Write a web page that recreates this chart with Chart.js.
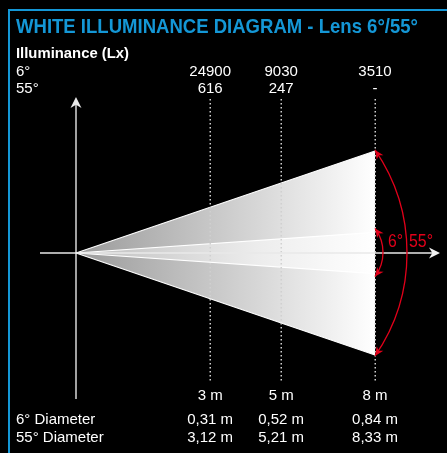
<!DOCTYPE html>
<html>
<head>
<meta charset="utf-8">
<script src="https://cdn.jsdelivr.net/npm/chart.js@4/dist/chart.umd.min.js"></script>
<style>
    html, body { margin: 0; padding: 0; background: #000; }
    canvas { display: block; }
</style>
</head>
<body>
<canvas id="chart-illuminance" width="447" height="453"></canvas>
<script>
// distances and readings under each column
const distances = ['3 m', '5 m', '8 m'];
const columnPos = [3.59, 5.49, 8];   // diagram is not to scale
const lux6 = ['24900', '9030', '3510'];
const lux55 = ['616', '247', '-'];
const diam6 = ['0,31 m', '0,52 m', '0,84 m'];
const diam55 = ['3,12 m', '5,21 m', '8,33 m'];

// beam half widths at the end of the drawing
const beamLength = 8;
const wideHalf = 4.17;
const narrowHalf = 0.84;

const blue = '#1497d6';
const red = '#e2001a';
const font = '"Liberation Sans", Arial, sans-serif';

function beamGradient(ctx, from, to) {
    const chart = ctx.chart;
    const x = chart.scales.x;
    if (!x || !chart.chartArea) {
        return from;
    }
    const g = chart.ctx.createLinearGradient(x.getPixelForValue(0), 0, x.getPixelForValue(beamLength), 0);
    g.addColorStop(0, from);
    g.addColorStop(0.6, to[0]);
    g.addColorStop(1, to[1]);
    return g;
}

function beam(half, order, colors) {
    return [half, -half].map(h => ({
        data: [{x: 0, y: 0}, {x: beamLength, y: h}],
        showLine: true,
        fill: 'origin',
        order: order,
        borderColor: '#ffffff',
        borderWidth: 1.2,
        pointRadius: 0,
        backgroundColor: ctx => beamGradient(ctx, colors[0], [colors[1], colors[2]]),
    }));
}

function arrowHead(c, tx, ty, dx, dy, len, w) {
    const px = -dy, py = dx;
    c.beginPath();
    c.moveTo(tx, ty);
    c.lineTo(tx - dx * len + px * w, ty - dy * len + py * w);
    c.lineTo(tx - dx * len * 0.7, ty - dy * len * 0.7);
    c.lineTo(tx - dx * len - px * w, ty - dy * len - py * w);
    c.closePath();
    c.fill();
}

function angleArc(c, x, yTop, yBot, bulge) {
    const cy = (yTop + yBot) / 2;
    const h = (yBot - yTop) / 2;
    const d = (h * h - bulge * bulge) / (2 * bulge);
    const cx = x - d;
    const r = d + bulge;
    const a = Math.atan2(-h, d);
    c.beginPath();
    c.arc(cx, cy, r, a, -a);
    c.stroke();
    // arrow heads at both ends, along the tangent
    arrowHead(c, x, yTop, Math.sin(a), -Math.cos(a), 9, 4);
    arrowHead(c, x, yBot, Math.sin(a), Math.cos(a), 9, 4);
}

const diagramPlugin = {
    id: 'diagram',
    beforeDraw(chart) {
        const c = chart.ctx;
        c.save();
        c.fillStyle = '#000';
        c.fillRect(0, 0, chart.width, chart.height);

        // frame
        c.strokeStyle = blue;
        c.lineWidth = 2;
        c.beginPath();
        c.moveTo(9, chart.height);
        c.lineTo(9, 10);
        c.lineTo(chart.width, 10);
        c.stroke();

        c.fillStyle = blue;
        c.font = 'bold 21px ' + font;
        c.textBaseline = 'alphabetic';
        c.textAlign = 'left';
        c.fillText('WHITE ILLUMINANCE DIAGRAM - Lens 6°/55°', 16, 33, 402);

        c.fillStyle = '#fff';
        c.font = 'bold 15px ' + font;
        c.fillText('Illuminance (Lx)', 16, 58, 113);

        c.font = '15px ' + font;
        c.fillText('6°', 16, 76);
        c.fillText('55°', 16, 93);
        c.fillText('6° Diameter', 16, 424);
        c.fillText('55° Diameter', 16, 442);

        const x = chart.scales.x;
        c.textAlign = 'center';
        columnPos.forEach((p, i) => {
            const px = x.getPixelForValue(p);
            c.fillText(lux6[i], px, 76);
            c.fillText(lux55[i], px, 93);
            c.fillText(distances[i], px, 400);
            c.fillText(diam6[i], px, 424);
            c.fillText(diam55[i], px, 442);
        });

        // vertical axis
        const ox = x.getPixelForValue(0);
        const oy = chart.scales.y.getPixelForValue(0);
        c.strokeStyle = '#d8d8d8';
        c.fillStyle = '#e8e8e8';
        c.lineWidth = 1.5;
        c.beginPath();
        c.moveTo(ox, 399);
        c.lineTo(ox, 104);
        c.stroke();
        arrowHead(c, ox, 97, 0, -1, 11, 5.5);
        c.restore();
    },
    afterDatasetsDraw(chart) {
        const c = chart.ctx;
        const x = chart.scales.x;
        const oy = chart.scales.y.getPixelForValue(0);
        c.save();

        // dotted guides at each distance
        c.strokeStyle = '#d0d0d0';
        c.lineWidth = 1.5;
        c.setLineDash([1.5, 2.5]);
        columnPos.forEach(p => {
            const px = Math.round(x.getPixelForValue(p)) + 0.25;
            c.beginPath();
            c.moveTo(px, 99);
            c.lineTo(px, 382);
            c.stroke();
        });
        c.setLineDash([]);

        // horizontal axis
        c.strokeStyle = '#e8e8e8';
        c.fillStyle = '#f2f2f2';
        c.lineWidth = 1.5;
        c.beginPath();
        c.moveTo(40, oy);
        c.lineTo(433, oy);
        c.stroke();
        arrowHead(c, 440, oy, 1, 0, 11, 5.5);

        // beam angle arcs
        const ex = x.getPixelForValue(beamLength);
        const y = chart.scales.y;
        c.strokeStyle = red;
        c.fillStyle = red;
        c.lineWidth = 1.3;
        angleArc(c, ex, y.getPixelForValue(wideHalf) - 1, y.getPixelForValue(-wideHalf) + 1, 32);
        angleArc(c, ex, y.getPixelForValue(narrowHalf) - 4, y.getPixelForValue(-narrowHalf) + 3, 8);

        c.font = '18px ' + font;
        c.textAlign = 'left';
        c.fillText('6°', 388, 247, 15);
        c.fillText('55°', 409, 247, 24);
        c.restore();
    },
};

new Chart(document.getElementById('chart-illuminance'), {
    type: 'scatter',
    data: {
        datasets: [
            ...beam(narrowHalf, 1, ['#bdbdbd', '#ececec', '#ffffff']),
            ...beam(wideHalf, 2, ['#9a9a9a', '#d6d6d6', '#ffffff']),
        ],
    },
    options: {
        responsive: false,
        animation: false,
        events: [],
        layout: { padding: 0 },
        plugins: {
            legend: { display: false },
            tooltip: { enabled: false },
        },
        scales: {
            x: { type: 'linear', display: false, min: -2.0334, max: 9.9264 },
            y: { type: 'linear', display: false, min: -8.177, max: 10.343 },
        },
    },
    plugins: [diagramPlugin],
});
</script>
</body>
</html>
